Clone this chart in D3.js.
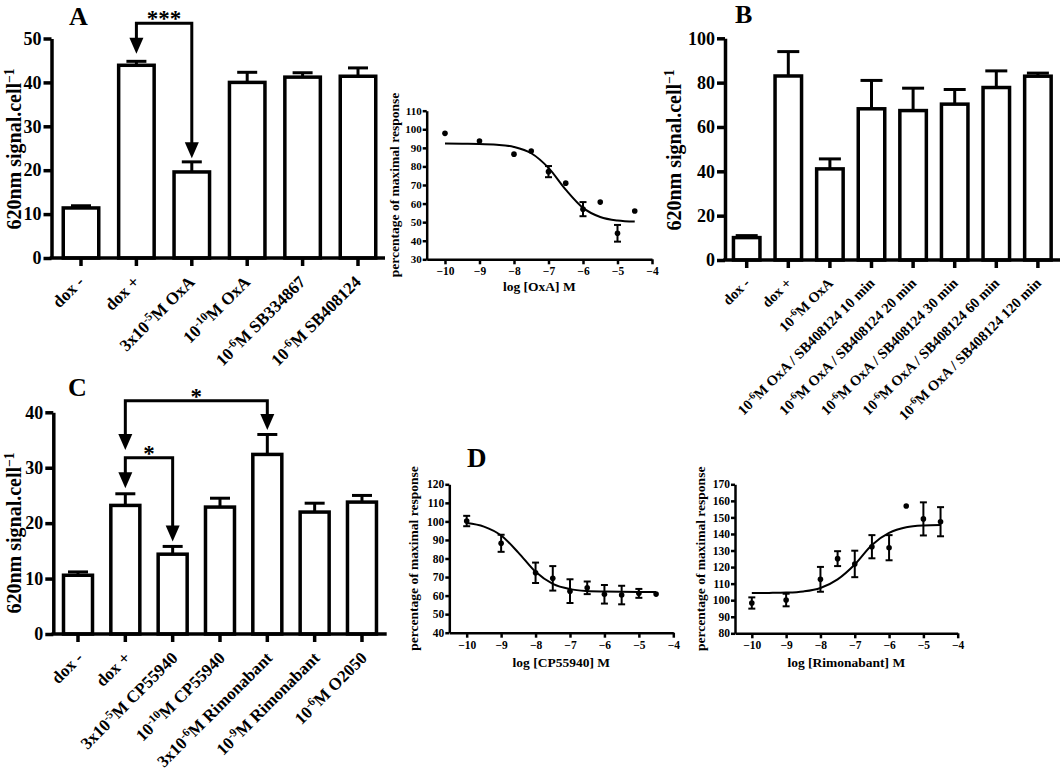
<!DOCTYPE html>
<html><head><meta charset="utf-8">
<script src="https://cdn.jsdelivr.net/npm/d3@7"></script>
<style>
body{margin:0;background:#fff}
svg{display:block;background:#fff}
text{font-family:"Liberation Serif","Times New Roman",serif;font-weight:bold;fill:#000}
</style>
</head><body>
<svg id="chart" width="1063" height="771"></svg>
<script>
// ---------- DATA ----------
const catsA = ["dox -", "dox +", "3x10^{-5}M OxA", "10^{-10}M OxA", "10^{-6}M SB334867", "10^{-6}M SB408124"];
const valsA = [11.4, 43.9, 19.6, 40.0, 41.2, 41.4];
const errsA = [0.5, 0.9, 2.3, 2.3, 1.0, 1.9];
const ticksA = [0, 10, 20, 30, 40, 50];

const catsB = ["dox -", "dox +", "10^{-6}M OxA",
  "10^{-6}M OxA / SB408124 10 min", "10^{-6}M OxA / SB408124 20 min",
  "10^{-6}M OxA / SB408124 30 min", "10^{-6}M OxA / SB408124 60 min",
  "10^{-6}M OxA / SB408124 120 min"];
const valsB = [10.1, 83.0, 41.1, 68.2, 67.4, 70.3, 77.8, 82.9];
const errsB = [0.9, 11.0, 4.5, 12.8, 10.1, 6.6, 7.5, 1.4];
const ticksB = [0, 20, 40, 60, 80, 100];

const catsC = ["dox -", "dox +", "3x10^{-5}M CP55940", "10^{-10}M CP55940",
  "3x10^{-6}M Rimonabant", "10^{-9}M Rimonabant", "10^{-6}M O2050"];
const valsC = [10.6, 23.2, 14.4, 22.9, 32.4, 22.0, 23.8];
const errsC = [0.6, 2.1, 1.4, 1.6, 3.6, 1.6, 1.2];
const ticksC = [0, 10, 20, 30, 40];

// significance brackets: [from category index, to category index, bracket value, left tip value, right tip value, label]
const bracketsA = [[1, 2, 53.5, 46.5, 22.7, "***"]];
const bracketsC = [[1, 4, 42.1, 33.2, 36.8, "*"], [1, 2, 31.8, 26.3, 16.7, "*"]];

// dose-response data
const logDose = [-10, -9, -8, -7.5, -7, -6.5, -6, -5.5, -5, -4.5];
const oxaResp = [97.8, 93.7, 86.6, 88.3, 77.2, 71.0, 57.0, 60.8, 44.0, 56.0];
const oxaErr  = [0, 0, 0, 0, 3.0, 0, 3.8, 0, 4.5, 0];
const cpResp  = [100.2, 88.2, 72.3, 69.3, 62.4, 64.2, 60.7, 60.3, 61.2, 60.8];
const cpErr   = [2.8, 4.6, 5.5, 6.6, 6.4, 3.4, 5.0, 5.0, 2.4, 0];
const rimResp = [98.3, 100.1, 112.6, 125.1, 121.9, 132.3, 131.7, 156.9, 149.1, 147.4];
const rimErr  = [3.4, 3.8, 7.5, 4.5, 8.0, 7.0, 7.6, 0, 10.0, 8.8];

// fitted curves
const fitDose = [-10, -9.5, -9, -8.5, -8, -7.5, -7, -6.5, -6, -5.5, -5, -4.5];
const oxaFit = [92.3, 92.2, 92.1, 91.7, 90.5, 87.1, 79.2, 67.5, 57.7, 52.8, 50.9, 50.3];
const cpFit  = [99.1, 97.2, 92.4, 83.2, 72.8, 66.3, 63.5, 62.5, 62.2, 62.05, 62.0, 62.0];
const rimFit = [104.3, 104.4, 104.6, 105.3, 107.4, 112.6, 121.6, 133.4, 140.6, 144.0, 145.1, 145.4];

const ticksOxa = [30, 40, 50, 60, 70, 80, 90, 100, 110];
const ticksCp = [40, 50, 60, 70, 80, 90, 100, 110, 120];
const ticksRim = [80, 90, 100, 110, 120, 130, 140, 150, 160, 170];
const ticksLog = [-10, -9, -8, -7, -6, -5, -4];

// ---------- DRAWING ----------
const svg = d3.select("#chart");
const SERIF = '"Liberation Serif","Times New Roman",serif';

function rich(sel, str, fs) {
  const re = /\^\{([^}]*)\}/g;
  let last = 0, m, shift = 0;
  const add = (t) => {
    const ts = sel.append("tspan").text(t);
    if (shift) ts.attr("dy", shift);
    shift = 0;
  };
  while ((m = re.exec(str))) {
    if (m.index > last) add(str.slice(last, m.index));
    const up = -fs * 0.36;
    sel.append("tspan").attr("font-size", fs * 0.68).attr("dy", up + shift).text(m[1]);
    shift = -up;
    last = re.lastIndex;
  }
  if (last < str.length) add(str.slice(last));
}

function styleAxis(g, sw, fs) {
  g.selectAll("path.domain").attr("stroke-width", sw).attr("stroke", "#000");
  g.selectAll(".tick line").attr("stroke-width", sw).attr("stroke", "#000");
  g.selectAll(".tick text").attr("font-size", fs)
    .attr("font-family", SERIF).attr("font-weight", "bold");
  g.attr("font-family", null).attr("font-size", null);
}

function barPanel(o) {
  const g = svg.append("g");
  const y = d3.scaleLinear().domain([0, o.yMax]).range([o.yBottom, o.yTop]);
  const pad = 1 - o.barW / o.step;
  const start = o.c0 - o.step / 2;
  const x = d3.scaleBand().domain(o.cats)
    .range([start, start + o.cats.length * o.step])
    .paddingInner(pad).paddingOuter(pad / 2);
  const cx = d => x(d) + x.bandwidth() / 2;

  // error bars (upper only)
  const eb = g.append("g").attr("stroke", "#000").attr("stroke-width", 3);
  eb.selectAll("line.v").data(o.cats).join("line")
    .attr("x1", cx).attr("x2", cx)
    .attr("y1", (d, i) => y(o.vals[i])).attr("y2", (d, i) => y(o.vals[i] + o.errs[i]));
  eb.selectAll("line.c").data(o.cats).join("line")
    .attr("x1", d => cx(d) - o.capW / 2).attr("x2", d => cx(d) + o.capW / 2)
    .attr("y1", (d, i) => y(o.vals[i] + o.errs[i])).attr("y2", (d, i) => y(o.vals[i] + o.errs[i]));

  // bars
  g.selectAll("rect.bar").data(o.cats).join("rect").attr("class", "bar")
    .attr("x", d => x(d)).attr("width", x.bandwidth())
    .attr("y", (d, i) => y(o.vals[i])).attr("height", (d, i) => y(0) - y(o.vals[i]))
    .attr("fill", "#fff").attr("stroke", "#000").attr("stroke-width", 3.5);

  // y axis
  const ya = g.append("g").attr("transform", `translate(${o.axisX},0)`)
    .call(d3.axisLeft(y).tickValues(o.ticks).tickSize(8).tickSizeOuter(0).tickPadding(2));
  styleAxis(ya, 3.5, o.tickFs);

  // x axis ticks
  const xa = g.append("g").attr("transform", `translate(0,${y(0)})`)
    .call(d3.axisBottom(x).tickSize(8).tickSizeOuter(0).tickFormat(""));
  xa.select("path.domain").remove();
  styleAxis(xa, 3.5, o.labelFs);
  g.append("line").attr("x1", o.axisX - 1.75).attr("x2", o.axisEnd)
    .attr("y1", y(0)).attr("y2", y(0)).attr("stroke", "#000").attr("stroke-width", 3.5);

  // rotated category labels
  o.cats.forEach(c => {
    const t = g.append("text").attr("text-anchor", "end").attr("font-size", o.labelFs)
      .attr("transform", `translate(${cx(c) + o.lblDx},${y(0) + o.lblDy}) rotate(-45)`);
    rich(t, c, o.labelFs);
  });

  // y title
  const yt = g.append("text").attr("text-anchor", "middle").attr("font-size", o.titleFs)
    .attr("transform", `translate(${o.titleX},${o.titleY}) rotate(-90)`);
  rich(yt, "620nm signal.cell^{−1}", o.titleFs);

  // panel letter
  g.append("text").attr("x", o.letterX).attr("y", o.letterY).attr("font-size", 26).text(o.letter);

  // brackets
  (o.brackets || []).forEach(b => {
    const xl = cx(o.cats[b[0]]), xr = cx(o.cats[b[1]]);
    const yb = y(b[2]), ylt = y(b[3]), yrt = y(b[4]);
    const ah = 16, aw = 7;
    g.append("path").attr("fill", "none").attr("stroke", "#000").attr("stroke-width", 3)
      .attr("d", `M${xl},${ylt - ah + 1}V${yb}H${xr}V${yrt - ah + 1}`);
    [[xl, ylt], [xr, yrt]].forEach(([ax, ay]) => {
      g.append("path").attr("fill", "#000")
        .attr("d", `M${ax - aw},${ay - ah}L${ax + aw},${ay - ah}L${ax},${ay}Z`);
    });
    g.append("text").attr("x", (xl + xr) / 2).attr("y", yb + o.starDy)
      .attr("text-anchor", "middle").attr("font-size", o.starFs).text(b[5]);
  });
}

function dosePanel(o) {
  const g = svg.append("g");
  const x = d3.scaleLinear().domain([o.xMin, -4]).range([o.axisX, o.axisXEnd]);
  const y = d3.scaleLinear().domain([o.yMin, o.yMax]).range([o.yBottom, o.yTop]);

  const ya = g.append("g").attr("transform", `translate(${o.axisX},0)`)
    .call(d3.axisLeft(y).tickValues(o.yTicks).tickSize(4).tickSizeOuter(0).tickPadding(1));
  styleAxis(ya, 2.5, o.yTickFs);
  const xa = g.append("g").attr("transform", `translate(0,${o.yBottom})`)
    .call(d3.axisBottom(x).tickValues(ticksLog).tickFormat(d3.format("d"))
      .tickSize(5).tickSizeOuter(0).tickPadding(3));
  styleAxis(xa, 2.5, o.xTickFs);

  // curve
  const line = d3.line().x((d, i) => x(fitDose[i])).y(d => y(d)).curve(d3.curveMonotoneX);
  g.append("path").attr("d", line(o.fit)).attr("fill", "none").attr("stroke", "#000").attr("stroke-width", 2);

  // error bars
  const eg = g.append("g").attr("stroke", "#000").attr("stroke-width", 2);
  logDose.forEach((d, i) => {
    const e = o.err[i];
    if (!e) return;
    const xx = x(d), yt = y(o.resp[i] + e), yb = y(o.resp[i] - e);
    eg.append("line").attr("x1", xx).attr("x2", xx).attr("y1", yt).attr("y2", yb);
    eg.append("line").attr("x1", xx - 3.5).attr("x2", xx + 3.5).attr("y1", yt).attr("y2", yt);
    eg.append("line").attr("x1", xx - 3.5).attr("x2", xx + 3.5).attr("y1", yb).attr("y2", yb);
  });
  g.selectAll("circle").data(o.resp).join("circle")
    .attr("cx", (d, i) => x(logDose[i])).attr("cy", d => y(d)).attr("r", 2.8).attr("fill", "#000");

  g.append("text").attr("text-anchor", "middle").attr("font-size", o.titleFs)
    .attr("x", (o.axisX + o.axisXEnd) / 2).attr("y", o.xTitleY).text(o.xTitle);
  g.append("text").attr("text-anchor", "middle").attr("font-size", o.titleFs)
    .attr("transform", `translate(${o.yTitleX},${(o.yTop + o.yBottom) / 2}) rotate(-90)`)
    .text("percentage of maximal response");
}

barPanel({cats: catsA, vals: valsA, errs: errsA, ticks: ticksA, yMax: 50,
  yBottom: 258, yTop: 38.5, axisX: 51.5, axisEnd: 385, c0: 81, step: 55.4, barW: 35.5, capW: 20,
  tickFs: 18, labelFs: 17, lblDx: 4, lblDy: 25, titleFs: 20, titleX: 21, titleY: 149,
  letter: "A", letterX: 69, letterY: 25, brackets: bracketsA, starFs: 23, starDy: 3});

barPanel({cats: catsB, vals: valsB, errs: errsB, ticks: ticksB, yMax: 100,
  yBottom: 260, yTop: 38.3, axisX: 725, axisEnd: 1060, c0: 746.7, step: 41.6, barW: 26.5, capW: 22,
  tickFs: 18, labelFs: 14.5, lblDx: 4, lblDy: 24, titleFs: 20, titleX: 681, titleY: 150,
  letter: "B", letterX: 735, letterY: 23});

barPanel({cats: catsC, vals: valsC, errs: errsC, ticks: ticksC, yMax: 40,
  yBottom: 634, yTop: 412.3, axisX: 53.3, axisEnd: 386.7, c0: 78, step: 47.33, barW: 29, capW: 20,
  tickFs: 18, labelFs: 17, lblDx: 6, lblDy: 25, titleFs: 20, titleX: 21, titleY: 533,
  letter: "C", letterX: 68, letterY: 396, brackets: bracketsC, starFs: 23, starDy: 3});

dosePanel({resp: oxaResp, err: oxaErr, fit: oxaFit, yTicks: ticksOxa, yMin: 30, yMax: 110,
  yBottom: 259.3, yTop: 110.7, axisX: 426.7, axisXEnd: 652, xMin: -10.53,
  yTickFs: 11, xTickFs: 11.5, titleFs: 13.5, xTitle: "log [OxA] M", xTitleY: 291, yTitleX: 399});

dosePanel({resp: cpResp, err: cpErr, fit: cpFit, yTicks: ticksCp, yMin: 40, yMax: 120,
  yBottom: 632.7, yTop: 484.3, axisX: 449.3, axisXEnd: 673.3, xMin: -10.505,
  yTickFs: 11.5, xTickFs: 11.5, titleFs: 13.5, xTitle: "log [CP55940] M", xTitleY: 667, yTitleX: 418});

dosePanel({resp: rimResp, err: rimErr, fit: rimFit, yTicks: ticksRim, yMin: 80, yMax: 170,
  yBottom: 633.3, yTop: 484.3, axisX: 735, axisXEnd: 957.7, xMin: -10.49,
  yTickFs: 11.5, xTickFs: 11.5, titleFs: 13.5, xTitle: "log [Rimonabant] M", xTitleY: 667, yTitleX: 705});

svg.append("text").attr("x", 467).attr("y", 467).attr("font-size", 27).text("D");
</script>
</body></html>
